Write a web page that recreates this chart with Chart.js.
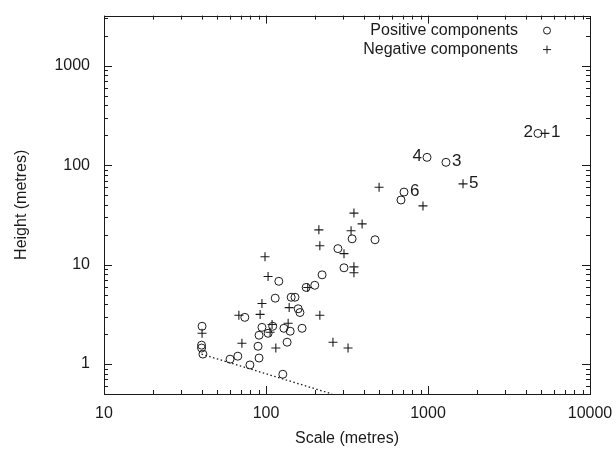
<!DOCTYPE html>
<html>
<head>
<meta charset="utf-8">
<script src="https://cdn.jsdelivr.net/npm/chart.js@4/dist/chart.umd.min.js"></script>
<style>
  html, body { margin: 0; padding: 0; background: #fff; }
  #wrap { width: 616px; height: 458px; }
</style>
</head>
<body>
<div id="wrap"><canvas id="c" width="616" height="458"></canvas></div>
<script>
// ---- data ----
const positiveX = [4775, 986, 1291, 711, 681, 471, 340, 278, 303, 222, 120, 177, 200, 114, 143, 151, 158, 162, 74, 40.3, 94.4, 110, 129, 141, 167, 90.6, 103, 135, 89.3, 40, 40, 40.8, 67, 60, 90.6, 79.6, 127];
const positiveY = [209, 120, 107, 53.7, 44.7, 17.8, 18.2, 14.5, 9.3, 7.9, 6.8, 5.9, 6.2, 4.6, 4.7, 4.7, 3.6, 3.3, 2.95, 2.4, 2.34, 2.4, 2.29, 2.14, 2.29, 1.95, 2.04, 1.66, 1.51, 1.55, 1.45, 1.26, 1.2, 1.12, 1.15, 0.98, 0.79];
const negativeX = [5270, 1645, 499, 931, 349, 392, 212, 335, 215, 303, 98.6, 349, 349, 103, 181, 94.4, 139, 215, 68, 92, 40.3, 109, 137, 106, 259, 71, 115, 321];
const negativeY = [209, 65, 60, 39, 33, 25.7, 22.4, 21.9, 15.5, 12.9, 12, 9.5, 8.3, 7.6, 5.9, 4.07, 3.7, 3.1, 3.1, 3.16, 2.04, 2.5, 2.57, 2.09, 1.66, 1.62, 1.45, 1.45];
const limitX = [40, 256];
const limitY = [1.26, 0.5];
const xTickLabels = [10, 100, 1000, 10000];
const yTickLabels = [1, 10, 100, 1000];
const seriesNames = ['Positive components', 'Negative components'];
// point annotations: text, series (0 positive, 1 negative), index into series, side
const annotText = ['2', '1', '4', '3', '5', '6'];
const annotSeries = [0, 1, 0, 0, 1, 0];
const annotIndex = [0, 0, 1, 2, 1, 3];
const annotSide = ['left', 'right', 'left', 'right', 'right', 'right'];

const FONT = '"Liberation Sans", Arial, Helvetica, sans-serif';
const INK = '#1a1a1a';

const pos = positiveX.map((x, i) => ({x, y: positiveY[i]}));
const neg = negativeX.map((x, i) => ({x, y: negativeY[i]}));
const lim = limitX.map((x, i) => ({x, y: limitY[i]}));

function minorTicks(min, max) {
  const out = [];
  for (let d = Math.pow(10, Math.floor(Math.log10(min))); d < max; d *= 10) {
    for (let m = 1; m < 10; m++) {
      const v = d * m;
      if (v >= min * 0.999 && v <= max * 1.001) out.push({v, major: m === 1});
    }
  }
  return out;
}

const framePlugin = {
  id: 'frame',
  afterDatasetsDraw(chart) {
    const {ctx, chartArea: a, scales: {x, y}} = chart;
    ctx.save();
    ctx.strokeStyle = INK;
    ctx.lineWidth = 1;
    ctx.strokeRect(Math.round(a.left) + 0.5, Math.round(a.top) + 0.5, Math.round(a.right - a.left), Math.round(a.bottom - a.top));
    ctx.beginPath();
    minorTicks(x.min, x.max).forEach(t => {
      const px = Math.round(x.getPixelForValue(t.v)) + 0.5;
      const len = t.major ? 8 : 4;
      ctx.moveTo(px, a.bottom); ctx.lineTo(px, a.bottom - len);
      ctx.moveTo(px, a.top); ctx.lineTo(px, a.top + len);
    });
    minorTicks(y.min, y.max).forEach(t => {
      const py = Math.round(y.getPixelForValue(t.v)) + 0.5;
      const len = t.major ? 8 : 4;
      ctx.moveTo(a.left, py); ctx.lineTo(a.left + len, py);
      ctx.moveTo(a.right, py); ctx.lineTo(a.right - len, py);
    });
    ctx.stroke();

    // point annotations
    ctx.fillStyle = INK;
    ctx.font = '17px ' + FONT;
    ctx.textBaseline = 'middle';
    const sets = [pos, neg];
    annotText.forEach((t, k) => {
      const p = sets[annotSeries[k]][annotIndex[k]];
      const px = x.getPixelForValue(p.x), py = y.getPixelForValue(p.y);
      if (annotSide[k] === 'left') { ctx.textAlign = 'right'; ctx.fillText(t, px - 5, py - 1); }
      else { ctx.textAlign = 'left'; ctx.fillText(t, px + 6, py - 1); }
    });

    // key
    ctx.font = '16px ' + FONT;
    ctx.textAlign = 'right';
    const kx = a.right - 72, sx = a.right - 43;
    const ky = [a.top + 15, a.top + 34];
    seriesNames.forEach((n, i) => ctx.fillText(n, kx, ky[i]));
    ctx.lineWidth = 1;
    ctx.beginPath(); ctx.arc(sx, ky[0], 3.5, 0, Math.PI * 2); ctx.stroke();
    ctx.beginPath();
    ctx.moveTo(sx - 4, ky[1]); ctx.lineTo(sx + 4, ky[1]);
    ctx.moveTo(sx, ky[1] - 4); ctx.lineTo(sx, ky[1] + 4);
    ctx.stroke();
    ctx.restore();
  }
};

new Chart(document.getElementById('c'), {
  type: 'scatter',
  data: {
    datasets: [
      {label: seriesNames[0], data: pos, pointStyle: 'circle', pointRadius: 4, borderColor: INK, backgroundColor: 'rgba(0,0,0,0)', borderWidth: 1},
      {label: seriesNames[1], data: neg, pointStyle: 'cross', pointRadius: 4.5, borderColor: INK, borderWidth: 1.1},
      {type: 'line', label: 'limit', data: lim, showLine: true, borderColor: INK, borderWidth: 1.3, borderDash: [1.5, 2.5], pointRadius: 0, fill: false}
    ]
  },
  options: {
    responsive: false,
    animation: false,
    events: [],
    layout: {padding: {top: 4, right: 26, left: 0, bottom: 0}},
    plugins: {legend: {display: false}, tooltip: {enabled: false}},
    scales: {
      x: {
        type: 'logarithmic', min: 10, max: 10000,
        grid: {display: false}, border: {display: false},
        afterBuildTicks: s => { s.ticks = xTickLabels.map(v => ({value: v})); },
        afterFit: s => { s.height = 64; },
        ticks: {color: INK, font: {family: FONT, size: 16}, padding: 2, autoSkip: false, maxRotation: 0,
                callback: v => String(v)},
        title: {display: true, text: 'Scale (metres)', color: INK, font: {family: FONT, size: 16}, padding: {top: 0, bottom: 10}}
      },
      y: {
        type: 'logarithmic', min: 0.5, max: 3200,
        grid: {display: false}, border: {display: false},
        afterBuildTicks: s => { s.ticks = yTickLabels.map(v => ({value: v})); },
        afterFit: s => { s.width = 104; },
        ticks: {color: INK, font: {family: FONT, size: 16}, padding: 6, autoSkip: false,
                callback: v => String(v)},
        title: {display: true, text: 'Height (metres)', color: INK, font: {family: FONT, size: 16}, padding: {top: 12, bottom: 0}}
      }
    }
  },
  plugins: [framePlugin]
});
</script>
</body>
</html>
